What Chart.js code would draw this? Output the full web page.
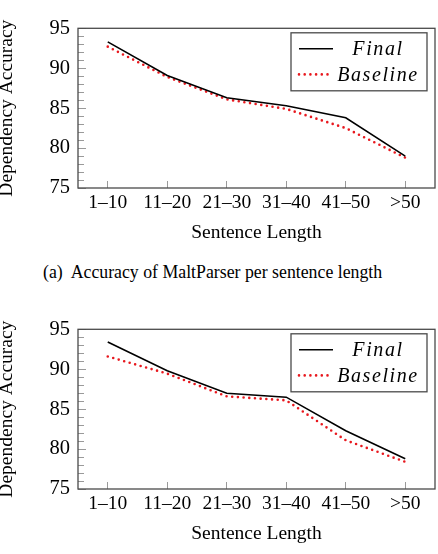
<!DOCTYPE html>
<html>
<head>
<meta charset="utf-8">
<script src="https://cdn.jsdelivr.net/npm/chart.js@4.4.0/dist/chart.umd.min.js"></script>
<style>
  body { margin: 0; background: #fff; width: 438px; height: 554px; overflow: hidden; position: relative; }
  canvas { position: absolute; left: 0; }
  #top { top: 0; }
  #bottom { top: 301px; }
  #caption { position: absolute; left: 43px; top: 262px; font: 17.8px "Liberation Serif", serif; line-height: 20px; color: #000; white-space: pre; }
</style>
</head>
<body>
<canvas id="top" width="438" height="250"></canvas>
<div id="caption">(a)  Accuracy of MaltParser per sentence length</div>
<canvas id="bottom" width="438" height="250"></canvas>
<script>
const categories = ['1–10', '11–20', '21–30', '31–40', '41–50', '>50'];
const maltFinal = [93.3, 89.1, 86.3, 85.3, 83.8, 79.0];
const maltBaseline = [92.7, 88.9, 86.1, 84.9, 82.5, 78.8];
const otherFinal = [93.4, 89.8, 87.0, 86.5, 82.3, 78.8];
const otherBaseline = [91.6, 89.45, 86.6, 86.1, 81.1, 78.4];
const yTicks = [75, 80, 85, 90, 95];

const frameColor = '#4a4a4a';
const tickColor = '#9a9a9a';
const redDots = 'rgb(232,24,30)';
const serif = '"Liberation Serif", "Times New Roman", serif';

// frame box, minor ticks and the boxed legend (pgfplots look)
const framePlugin = {
  id: 'frame',
  beforeDatasetsDraw(chart) {
    const { ctx, chartArea: a, scales: { y } } = chart;
    ctx.save();
    ctx.strokeStyle = tickColor;
    ctx.lineWidth = 1;
    for (let v = yTicks[0] + 1; v < yTicks[yTicks.length - 1]; v++) {
      if (v % 5 === 0) continue;
      const py = Math.round(y.getPixelForValue(v)) + 0.5;
      ctx.beginPath();
      ctx.moveTo(a.left, py);
      ctx.lineTo(a.left + 6, py);
      ctx.stroke();
    }
    ctx.restore();
  },
  afterDraw(chart) {
    const { ctx, chartArea: a } = chart;
    ctx.save();
    ctx.strokeStyle = frameColor;
    ctx.lineWidth = 1.3;
    ctx.strokeRect(a.left, a.top, a.right - a.left, a.bottom - a.top);

    // legend
    const bx = a.right - 144, by = a.top + 4.5, bw = 136, bh = 58;
    ctx.fillStyle = '#fff';
    ctx.fillRect(bx, by, bw, bh);
    ctx.strokeRect(bx, by, bw, bh);
    chart.data.datasets.forEach((ds, i) => {
      const cy = by + 16 + i * 25.6;
      ctx.save();
      ctx.setLineDash(ds.borderDash || []);
      ctx.lineCap = ds.borderCapStyle || 'butt';
      ctx.lineWidth = ds.borderWidth;
      ctx.strokeStyle = ds.borderColor;
      ctx.beginPath();
      ctx.moveTo(bx + 8, cy);
      ctx.lineTo(bx + 42, cy);
      ctx.stroke();
      ctx.restore();
      ctx.fillStyle = '#000';
      ctx.font = 'italic 20px ' + serif;
      ctx.letterSpacing = '1.6px';
      ctx.textAlign = 'center';
      ctx.textBaseline = 'middle';
      ctx.fillText(ds.label, bx + 87, cy + 1);
    });
    ctx.restore();
  }
};

function makeChart(id, finalData, baselineData) {
  return new Chart(document.getElementById(id), {
    type: 'line',
    data: {
      labels: categories,
      datasets: [{
        label: 'Final',
        data: finalData,
        borderColor: '#000',
        borderWidth: 1.6,
        pointRadius: 0,
        tension: 0,
        fill: false
      }, {
        label: 'Baseline',
        data: baselineData,
        borderColor: redDots,
        borderWidth: 2.6,
        borderDash: [0, 5.7],
        borderCapStyle: 'round',
        pointRadius: 0,
        tension: 0,
        fill: false
      }]
    },
    options: {
      responsive: false,
      animation: false,
      devicePixelRatio: 1,
      layout: { padding: { top: 17, right: 3, left: 0, bottom: 0 } },
      plugins: { legend: { display: false }, tooltip: { enabled: false } },
      scales: {
        x: {
          type: 'category',
          offset: true,
          grid: { offset: false, drawOnChartArea: false, tickLength: -7, color: tickColor },
          border: { display: false },
          ticks: { color: '#000', font: { family: serif, size: 19.5 }, padding: 10, maxRotation: 0, autoSkip: false },
          title: { display: true, text: 'Sentence Length', color: '#000', font: { family: serif, size: 19.5 }, padding: { top: 0, bottom: 5 } },
          afterFit(scale) { scale.height = 62; }
        },
        y: {
          min: 75,
          max: 95,
          afterBuildTicks(scale) { scale.ticks = yTicks.map(v => ({ value: v })); },
          grid: { drawOnChartArea: false, tickLength: -8, color: tickColor },
          border: { display: false },
          ticks: { color: '#000', font: { family: serif, size: 20.5 }, padding: 16 },
          title: { display: true, text: 'Dependency Accuracy', color: '#000', font: { family: serif, size: 19.5 }, padding: { top: -5, bottom: 0 } },
          afterFit(scale) { scale.width = 78; }
        }
      }
    },
    plugins: [framePlugin]
  });
}

makeChart('top', maltFinal, maltBaseline);
makeChart('bottom', otherFinal, otherBaseline);
</script>
</body>
</html>
